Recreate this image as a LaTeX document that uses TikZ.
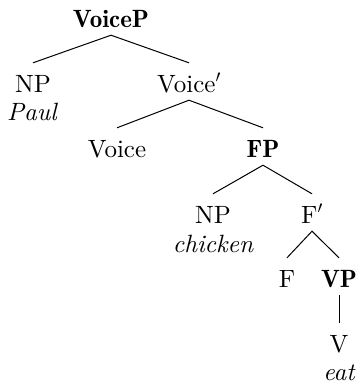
\documentclass[tikz,border=0pt]{standalone}
\usepackage{fontspec}
\setmainfont{lmroman10-regular.otf}[BoldFont=lmromandemi10-regular.otf,ItalicFont=lmroman10-italic.otf]
\begin{document}
\begin{tikzpicture}[x=1pt,y=-1pt,
  cat/.style={anchor=base,inner xsep=0pt,inner ysep=8pt,text height=21pt,text depth=0pt,font=\fontsize{25}{29}\selectfont},
  word/.style={anchor=base,inner sep=0pt,font=\fontsize{25}{29}\selectfont\itshape},
  edge/.style={line width=1pt}]
\useasboundingbox (0,0) rectangle (359,384);
\node[cat] (voicep) at (111,27) {\textbf{VoiceP}};
\node[cat] (np1) at (33,92) {NP};
\node[word] (paul) at (32,120) {Paul};
\node[cat] (voicebar) at (189,92) {Voice$'$};
\node[cat] (voice) at (117,157) {Voice};
\node[cat] (fp) at (263,157) {\textbf{FP}};
\node[cat] (np2) at (213,223) {NP};
\node[word] (chicken) at (213,252) {chicken};
\node[cat] (fbar) at (312,223) {F$'$};
\node[cat] (f) at (287,287) {F};
\node[cat] (vp) at (339,287) {\textbf{VP}};
\node[cat] (v) at (339,352) {V};
\node[word] (eat) at (339,380) {eat};
\draw[edge] (np1.north) -- (voicep.south) -- (voicebar.north);
\draw[edge] (voice.north) -- (voicebar.south) -- (fp.north);
\draw[edge] (np2.north) -- (fp.south) -- (fbar.north);
\draw[edge] (f.north) -- (fbar.south) -- (vp.north);
\draw[edge] (vp.south) -- (v.north);
\end{tikzpicture}
\end{document}
